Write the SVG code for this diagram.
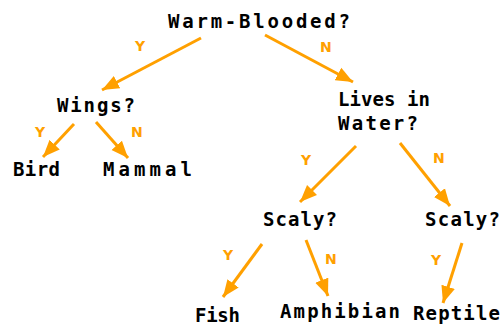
<svg xmlns="http://www.w3.org/2000/svg" width="502" height="329" viewBox="0 0 502 329">
<defs>
<style>
.t{font-family:"DejaVu Sans Mono","Liberation Mono",monospace;font-size:19px;font-weight:bold;fill:#000}
.l{font-family:"DejaVu Sans","Liberation Sans",sans-serif;font-size:14px;font-weight:bold;fill:#FFA000}
.c{stroke:#FFA000;stroke-width:3;fill:none;marker-end:url(#ah)}
</style>
<marker id="ah" markerUnits="userSpaceOnUse" markerWidth="18" markerHeight="16" viewBox="0 0 18 16" refX="17" refY="8" orient="auto">
<path d="M0,1 L17,8 L0,15 Z" fill="#FFA000"/>
</marker>
</defs>
<rect width="502" height="329" fill="#fff"/>
<g id="connectors">
<line class="c" x1="201" y1="38" x2="102" y2="90"/>
<line class="c" x1="265" y1="35" x2="353" y2="82"/>
<line class="c" x1="74" y1="124" x2="43" y2="157"/>
<line class="c" x1="96" y1="122" x2="128" y2="158"/>
<line class="c" x1="356" y1="146" x2="300" y2="202"/>
<line class="c" x1="400" y1="143" x2="450" y2="206"/>
<line class="c" x1="262" y1="244" x2="223" y2="297"/>
<line class="c" x1="306" y1="240" x2="328" y2="296"/>
<line class="c" x1="462" y1="243" x2="443" y2="303"/>
<text class="l" x="135" y="51">Y</text>
<text class="l" x="320" y="52">N</text>
<text class="l" x="35" y="137">Y</text>
<text class="l" x="131" y="137">N</text>
<text class="l" x="301" y="165">Y</text>
<text class="l" x="433" y="163">N</text>
<text class="l" x="223" y="260">Y</text>
<text class="l" x="325" y="264">N</text>
<text class="l" x="431" y="265">Y</text>
</g>
<g id="warm"><text class="t" x="168" y="28" textLength="182" lengthAdjust="spacing">Warm-Blooded?</text></g>
<g id="wings"><text class="t" x="57" y="112" textLength="78" lengthAdjust="spacing">Wings?</text></g>
<g id="water"><text class="t" x="338" y="106" textLength="92" lengthAdjust="spacing">Lives in</text><text class="t" x="338" y="130" textLength="80" lengthAdjust="spacing">Water?</text></g>
<g id="bird"><text class="t" x="13" y="176" textLength="47" lengthAdjust="spacing">Bird</text></g>
<g id="mammal"><text class="t" x="103" y="176" textLength="89" lengthAdjust="spacing">Mammal</text></g>
<g id="scaly1"><text class="t" x="263" y="226" textLength="74" lengthAdjust="spacing">Scaly?</text></g>
<g id="scaly2"><text class="t" x="425" y="226" textLength="75" lengthAdjust="spacing">Scaly?</text></g>
<g id="fish"><text class="t" x="195" y="322" textLength="45" lengthAdjust="spacing">Fish</text></g>
<g id="amphibian"><text class="t" x="280" y="318" textLength="120" lengthAdjust="spacing">Amphibian</text></g>
<g id="reptile"><text class="t" x="413" y="320" textLength="87" lengthAdjust="spacing">Reptile</text></g>
</svg>
